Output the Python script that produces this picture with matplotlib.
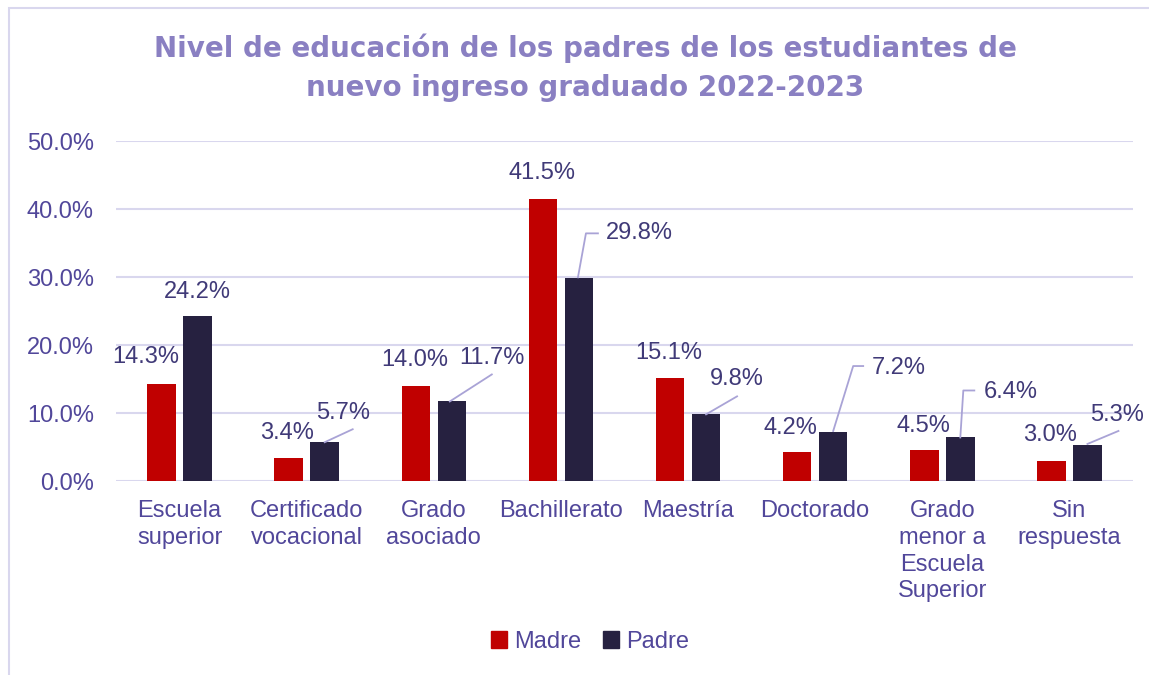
import matplotlib
matplotlib.use("Agg")
import matplotlib.pyplot as plt
import matplotlib.transforms as mtransforms
from matplotlib.patches import Rectangle, Patch
from matplotlib.lines import Line2D
import numpy as np

# ---- data ----
categories = ["Escuela\nsuperior", "Certificado\nvocacional", "Grado\nasociado",
              "Bachillerato", "Maestría", "Doctorado",
              "Grado\nmenor a\nEscuela\nSuperior", "Sin\nrespuesta"]
madre = [14.3, 3.4, 14.0, 41.5, 15.1, 4.2, 4.5, 3.0]
padre = [24.2, 5.7, 11.7, 29.8, 9.8, 7.2, 6.4, 5.3]
series_names = ["Madre", "Padre"]
yticks = [0, 10, 20, 30, 40, 50]
title = "Nivel de educación de los padres de los estudiantes de\nnuevo ingreso graduado 2022-2023"

# ---- style ----
W, H, DPI = 1149, 675, 100
FONT = ["Liberation Sans", "DejaVu Sans"]
plt.rcParams["font.family"] = FONT
FS = 17
c_madre = "#C00000"
c_padre = "#262140"
c_tick = "#51479A"
c_lab = "#403A78"
c_title = "#8A80C2"
c_grid = "#D9D7EE"
c_leader = "#A9A3D6"

# label offsets in pixels (dx, dy-up) from each bar top
madre_off = [(-16, 27), (-2, 25), (-1, 26), (-1, 26), (-1, 25), (-7, 24), (-1, 24), (-1, 26)]
padre_off = [(0, 24), (18, 29), (40, 43), (60, 45), (31, 35), (66, 64), (50, 45), (30, 30)]
leaders = {1: [(0, 0), (28, 13)],
           2: [(-2, 0), (40, 27)],
           3: [(-1, 1), (7, 45), (19, 45)],
           4: [(0, 0), (31, 18)],
           5: [(0, 1), (20, 66), (30, 66)],
           6: [(0, 0), (3, 47), (14, 47)],
           7: [(0, 1), (31, 14)]}

fig = plt.figure(figsize=(W / DPI, H / DPI), dpi=DPI)
ax = fig.add_axes([116 / W, 1 - 481 / H, (1133 - 116) / W, (481 - 141) / H])

x = np.arange(len(categories))
bw = 0.224
off = 0.1416
b1 = ax.bar(x - off, madre, bw, color=c_madre, zorder=3)
b2 = ax.bar(x + off, padre, bw, color=c_padre, zorder=3)

ax.set_xlim(-0.5, len(categories) - 0.5)
ax.set_ylim(0, 50)
ax.set_yticks(yticks)
ax.set_yticklabels([f"{v:.1f}%" for v in yticks], color=c_tick, fontsize=FS)
ax.set_xticks(x)
ax.set_xticklabels(categories, color=c_tick, fontsize=FS, linespacing=1.27, va="top")
ax.tick_params(axis="both", length=0)
ax.tick_params(axis="y", pad=16)
ax.tick_params(axis="x", pad=14)
for s in ax.spines.values():
    s.set_visible(False)
ax.grid(axis="y", color=c_grid, linewidth=1.5, zorder=0)
ax.set_axisbelow(True)

for i, v in enumerate(madre):
    ax.annotate(f"{v:.1f}%", xy=(x[i] - off, v), xytext=madre_off[i],
                textcoords="offset pixels", ha="center", va="center",
                fontsize=FS, color=c_lab, zorder=5)
for i, v in enumerate(padre):
    ax.annotate(f"{v:.1f}%", xy=(x[i] + off, v), xytext=padre_off[i],
                textcoords="offset pixels", ha="center", va="center",
                fontsize=FS, color=c_lab, zorder=5)
    if i in leaders:
        base = ax.transData.transform((x[i] + off, v))
        tr = mtransforms.Affine2D().translate(*base)
        pts = np.array(leaders[i], dtype=float)
        ax.add_line(Line2D(pts[:, 0], pts[:, 1], transform=tr, color=c_leader,
                           linewidth=1.3, zorder=4, clip_on=False))

fig.text(585 / W, 1 - 68 / H, title, ha="center", va="center", fontsize=20,
         fontweight="bold", color=c_title, linespacing=1.5,
         family=["DejaVu Sans"])

handles = [Patch(color=c_madre), Patch(color=c_padre)]
fig.legend(handles, series_names, loc="center", bbox_to_anchor=(590 / W, 1 - 642 / H),
           ncol=2, frameon=False, fontsize=FS, labelcolor=c_tick,
           handlelength=0.7, handleheight=0.7, handletextpad=0.3, columnspacing=0.9)

fig.add_artist(Rectangle((9 / W, -0.1), 1.2, 1 - 8 / H + 0.1, transform=fig.transFigure,
                         fill=False, edgecolor=c_grid, linewidth=1.5))

fig.savefig("out.png", dpi=DPI)
